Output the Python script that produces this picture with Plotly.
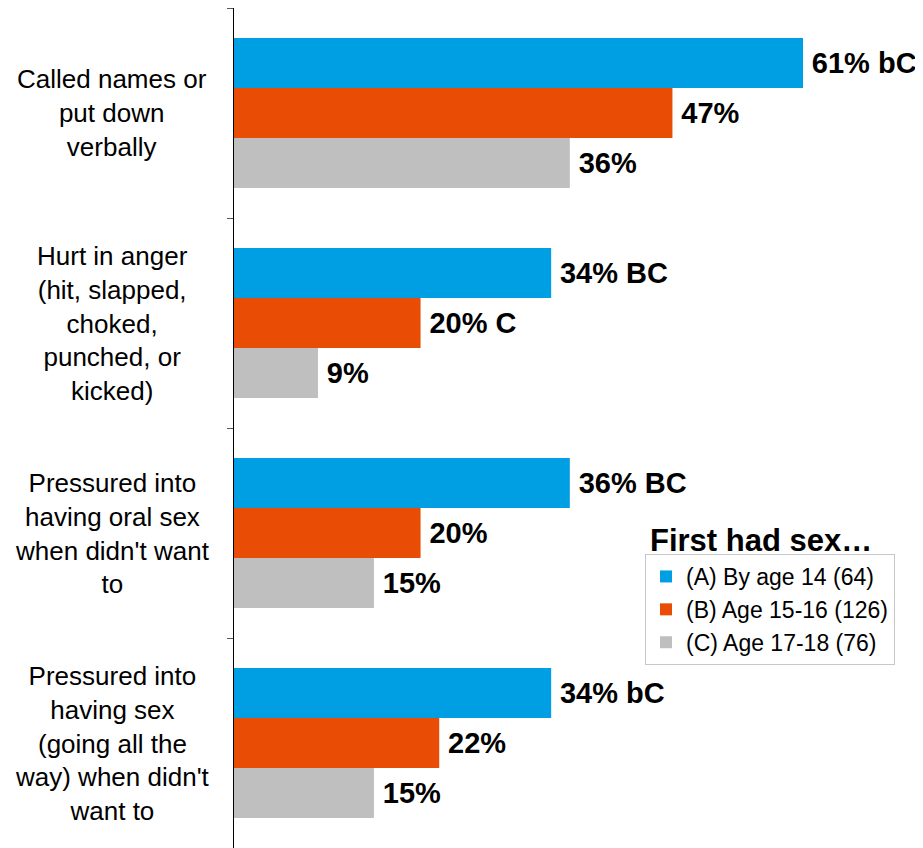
import plotly.graph_objects as go

categories = [
    "Called names or<br>put down<br>verbally",
    "Hurt in anger<br>(hit, slapped,<br>choked,<br>punched, or<br>kicked)",
    "Pressured into<br>having oral sex<br>when didn't want<br>to",
    "Pressured into<br>having sex<br>(going all the<br>way) when didn't<br>want to",
]
series_names = ["(A) By age 14 (64)", "(B) Age 15-16 (126)", "(C) Age 17-18 (76)"]
values_a = [61, 34, 36, 34]
values_b = [47, 20, 20, 22]
values_c = [36, 9, 15, 15]
labels_a = ["61% bC", "34% BC", "36% BC", "34% bC"]
labels_b = ["47%", "20% C", "20%", "22%"]
labels_c = ["36%", "9%", "15%", "15%"]
colors = ["#009FE3", "#E84C05", "#BFBFBF"]

FONT = "Liberation Sans, Arial, sans-serif"
keys = list(range(len(categories)))

fig = go.Figure()
for name, vals, labs, col in zip(series_names, [values_a, values_b, values_c],
                                 [labels_a, labels_b, labels_c], colors):
    fig.add_trace(go.Bar(
        y=keys, x=vals, orientation="h", name=name,
        marker=dict(color=col, line=dict(width=0)),
        text=["\u2009<b>" + t + "</b>" for t in labs],
        textposition="outside", constraintext="none", cliponaxis=False,
        textfont=dict(family=FONT, size=29, color="#000000"),
    ))

annotations = []
for k, c in zip(keys, categories):
    annotations.append(dict(
        x=-0.177, xref="paper", y=k, yref="y", text=c, showarrow=False,
        xanchor="center", yanchor="middle", align="center",
        font=dict(family=FONT, size=26, color="#000000"),
    ))
annotations.append(dict(
    x=0.601, xref="paper", y=0.3655, yref="paper", text="<b>First had sex…</b>",
    showarrow=False, xanchor="left", yanchor="middle",
    font=dict(family=FONT, size=31, color="#000000"),
))

fig.update_layout(
    width=915, height=840,
    margin=dict(l=226, r=0, t=0, b=0),
    paper_bgcolor="white", plot_bgcolor="white",
    barmode="group", bargap=0.285, bargroupgap=0,
    showlegend=True,
    legend=dict(
        x=0.5965, y=0.35, xanchor="left", yanchor="top",
        bordercolor="#C8C8C8", borderwidth=1, bgcolor="white",
        font=dict(family=FONT, size=23, color="#000000"),
        tracegroupgap=0,
    ),
    xaxis=dict(range=[0, 73.86], visible=False, fixedrange=True),
    yaxis=dict(
        type="category", autorange="reversed",
        showticklabels=False, showgrid=False, zeroline=False,
        showline=True, linecolor="#000000", linewidth=1,
        ticks="outside", tickson="boundaries", ticklen=6, tickcolor="#595959",
    ),
    annotations=annotations,
)

fig.write_html("out.html")
